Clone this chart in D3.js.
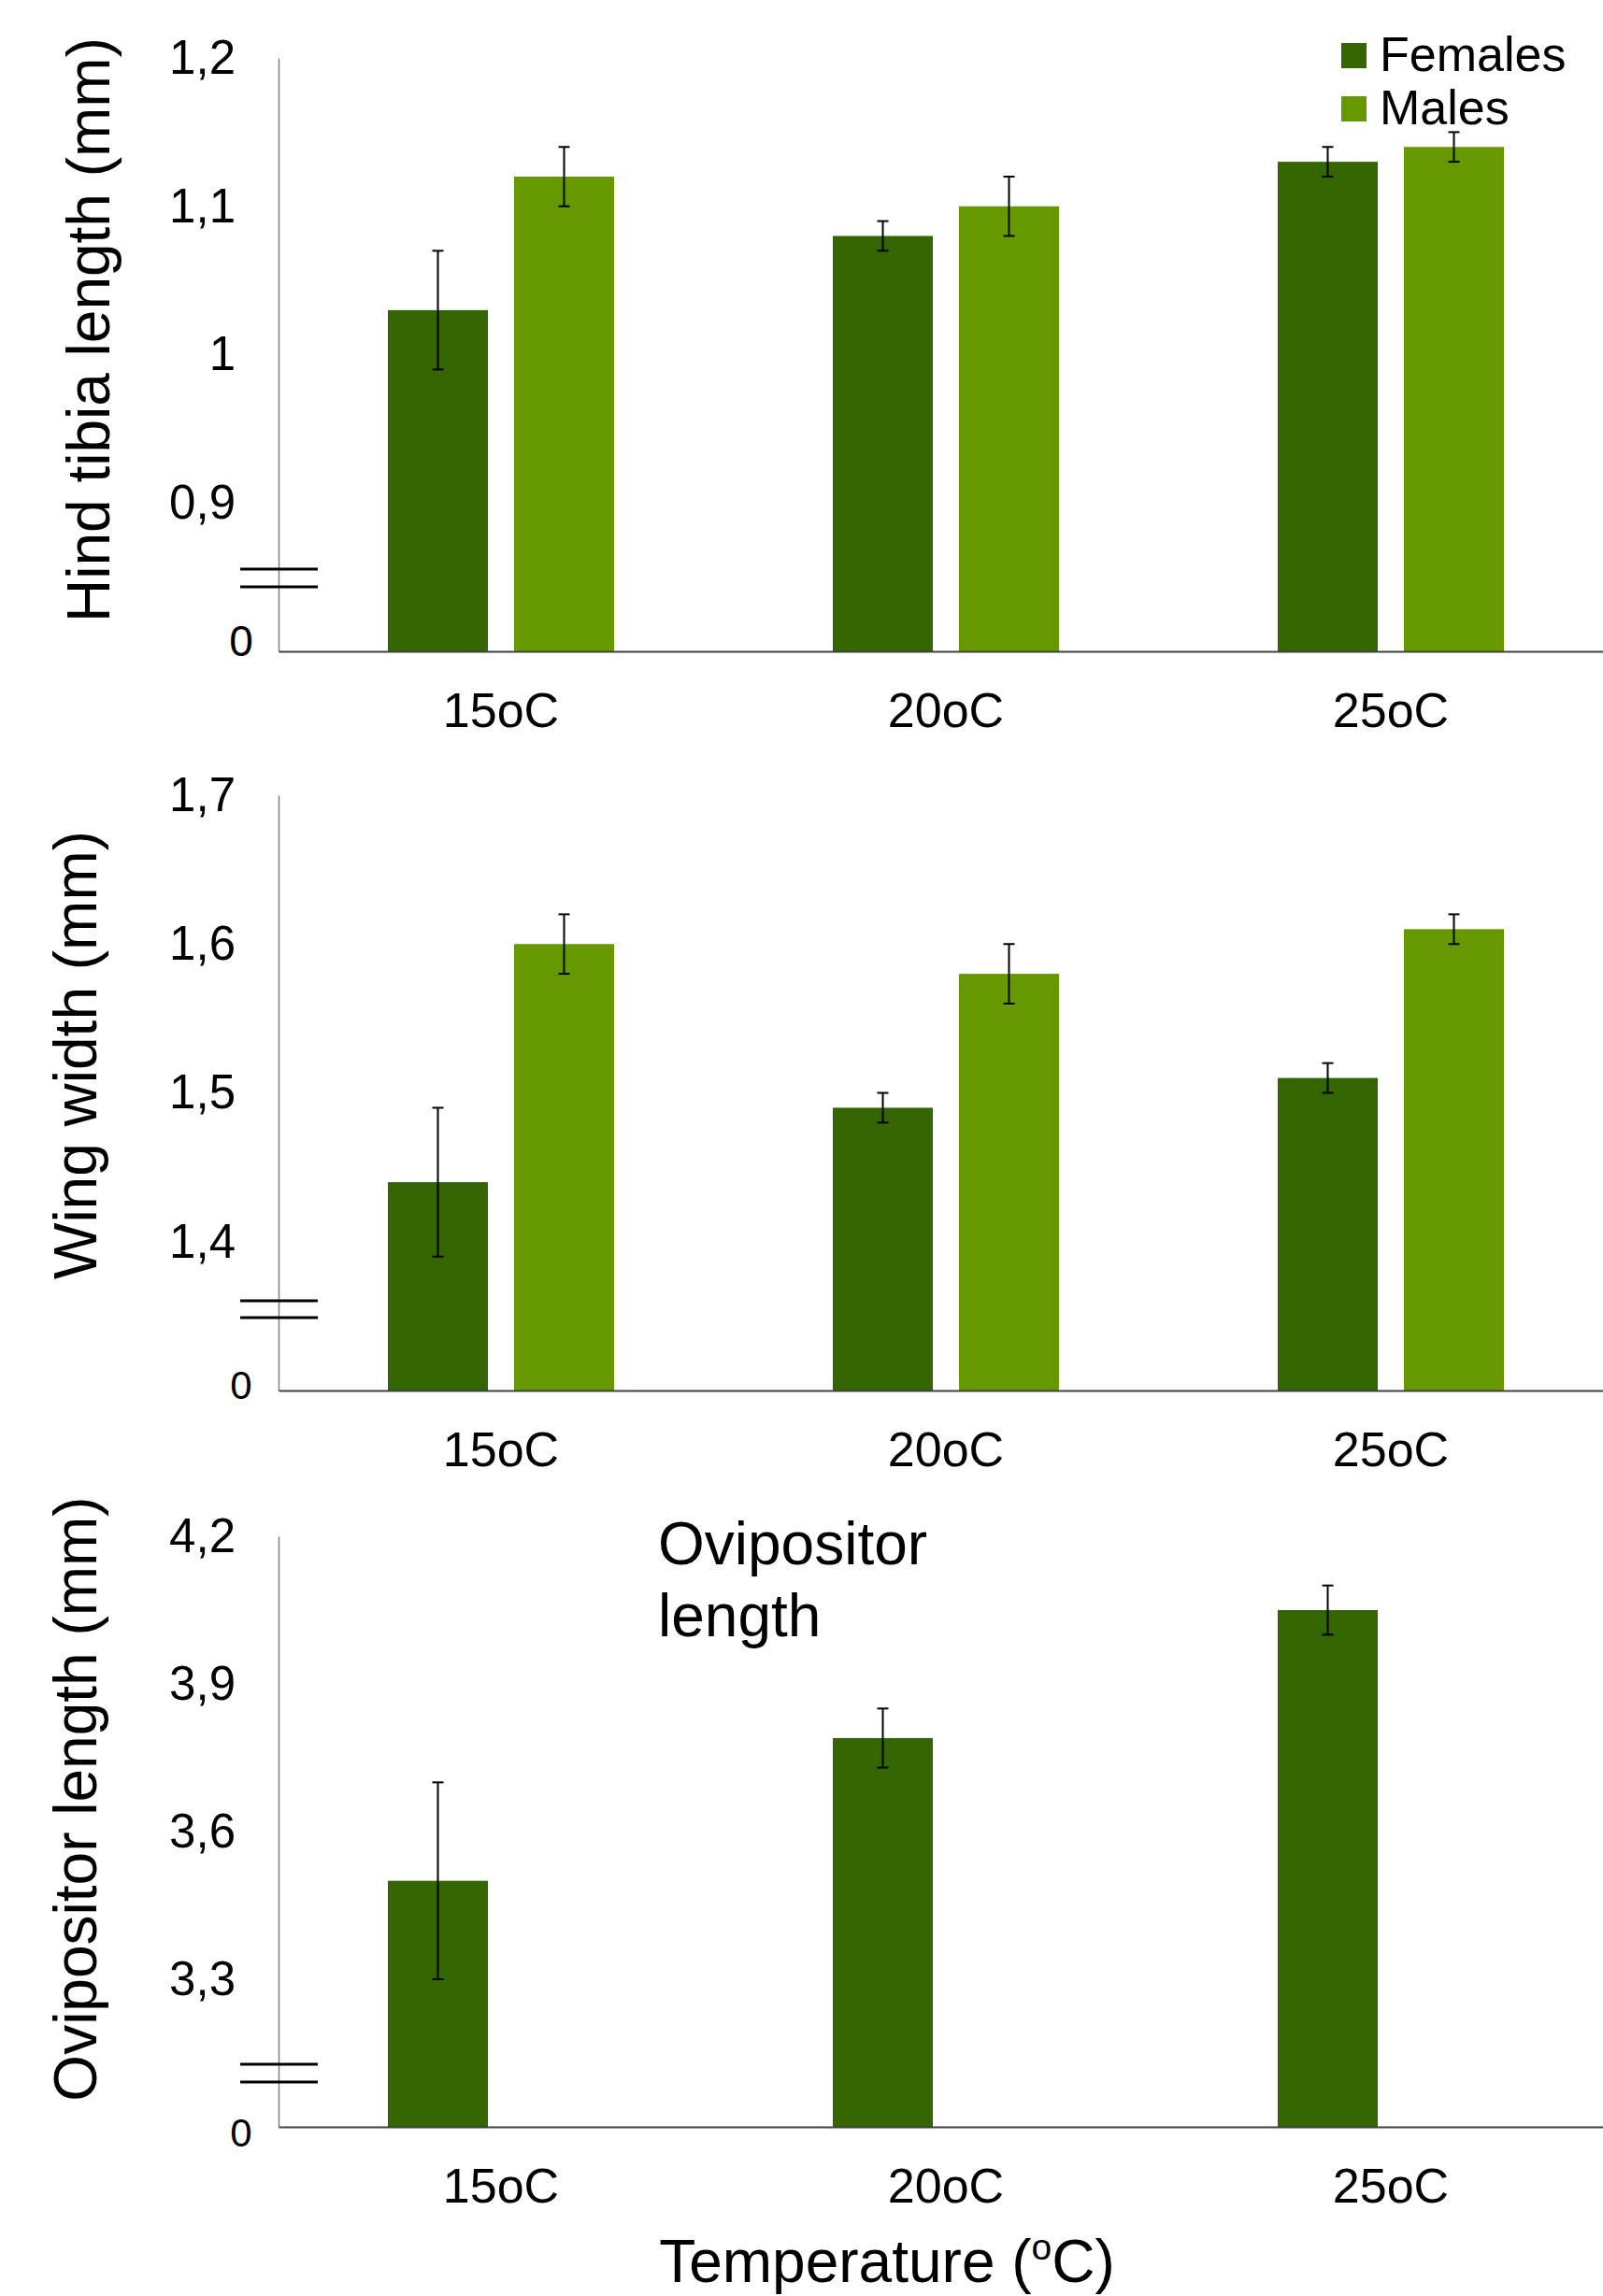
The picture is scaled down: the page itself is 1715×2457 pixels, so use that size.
<!DOCTYPE html>
<html>
<head>
<meta charset="utf-8">
<script src="https://cdn.jsdelivr.net/npm/d3@7/dist/d3.min.js"></script>
<style>
  html, body { margin: 0; padding: 0; background: #ffffff; }
  svg { display: block; font-family: "Liberation Sans", Arial, Helvetica, sans-serif; }
</style>
</head>
<body>
<svg id="chart" width="1715" height="2457"></svg>
<script>
// Temperature groups and sexes
const categories = ["15oC", "20oC", "25oC"];
const series = ["Females", "Males"];

// Hind tibia length (mm): means and error half-widths
const tibiaFemales = [1.03, 1.08, 1.13];
const tibiaFemalesErr = [0.04, 0.01, 0.01];
const tibiaMales = [1.12, 1.10, 1.14];
const tibiaMalesErr = [0.02, 0.02, 0.01];

// Wing width (mm)
const wingFemales = [1.44, 1.49, 1.51];
const wingFemalesErr = [0.05, 0.01, 0.01];
const wingMales = [1.60, 1.58, 1.61];
const wingMalesErr = [0.02, 0.02, 0.01];

// Ovipositor length (mm), females only
const oviFemales = [3.50, 3.79, 4.05];
const oviFemalesErr = [0.20, 0.06, 0.05];

// Broken value axes: the lowest value is shown as "0"
const tibiaTicks = [0.9, 1.0, 1.1, 1.2];
const tibiaTickLabels = ["0,9", "1", "1,1", "1,2"];
const tibiaBase = 0.8;
const wingTicks = [1.4, 1.5, 1.6, 1.7];
const wingTickLabels = ["1,4", "1,5", "1,6", "1,7"];
const wingBase = 1.3;
const oviTicks = [3.3, 3.6, 3.9, 4.2];
const oviTickLabels = ["3,3", "3,6", "3,9", "4,2"];
const oviBase = 3.0;
const baseLabel = "0";

const colors = { Females: "#336600", Males: "#669900" };

const svg = d3.select("#chart");
svg.append("rect").attr("width", 1715).attr("height", 2457).attr("fill", "#fff");

const axisX = 298;
const x0 = d3.scaleBand().domain(categories).range([axisX, 1726]).padding(0);
const x1 = d3.scaleBand().domain(series).range([0, 242]).paddingInner(28 / 135).paddingOuter(0);
const groupOffset = (x0.bandwidth() - 242) / 2;

const panels = [
  {
    title: "Hind tibia length (mm)", titleX: 117, titleY: 353,
    top: 62, bottom: 697, base: tibiaBase, ticks: tibiaTicks, labels: tibiaTickLabels,
    breaks: [88, 69], zeroDy: -12, zeroSize: 46,
    data: [
      { s: "Females", v: tibiaFemales, e: tibiaFemalesErr },
      { s: "Males", v: tibiaMales, e: tibiaMalesErr }
    ]
  },
  {
    title: "Wing width (mm)", titleX: 103, titleY: 1129,
    top: 851, bottom: 1488, base: wingBase, ticks: wingTicks, labels: wingTickLabels,
    breaks: [96, 78], zeroDy: -6, zeroSize: 42,
    data: [
      { s: "Females", v: wingFemales, e: wingFemalesErr },
      { s: "Males", v: wingMales, e: wingMalesErr }
    ]
  },
  {
    title: "Ovipositor length (mm)", titleX: 103, titleY: 1925,
    top: 1644, bottom: 2276, base: oviBase, ticks: oviTicks, labels: oviTickLabels,
    breaks: [67, 48], zeroDy: 6, zeroSize: 42,
    data: [
      { s: "Females", v: oviFemales, e: oviFemalesErr }
    ]
  }
];

panels.forEach(p => {
  const g = svg.append("g");
  const topVal = p.ticks[p.ticks.length - 1];
  const y = d3.scaleLinear().domain([p.base, topVal]).range([p.bottom, p.top]);

  // bars
  p.data.forEach(ser => {
    const rows = categories.map((c, i) => ({ c, v: ser.v[i], e: ser.e[i] }));
    const bx = d => x0(d.c) + groupOffset + x1(ser.s);
    g.append("g").selectAll("rect").data(rows).join("rect")
      .attr("x", bx)
      .attr("y", d => y(d.v))
      .attr("width", x1.bandwidth())
      .attr("height", d => p.bottom - y(d.v))
      .attr("fill", colors[ser.s]);

    // error bars
    const eb = g.append("g").attr("stroke", "#000").attr("stroke-width", 2);
    rows.forEach(d => {
      const cx = bx(d) + x1.bandwidth() / 2;
      eb.append("line").attr("x1", cx).attr("x2", cx).attr("y1", y(d.v + d.e)).attr("y2", y(d.v - d.e));
      [d.v + d.e, d.v - d.e].forEach(val => {
        eb.append("line").attr("x1", cx - 6).attr("x2", cx + 6).attr("y1", y(val)).attr("y2", y(val));
      });
    });
  });

  // value axis
  const yAxis = d3.axisLeft(y)
    .tickValues(p.ticks)
    .tickFormat((d, i) => p.labels[i])
    .tickSizeInner(0).tickSizeOuter(0).tickPadding(46);
  const ya = g.append("g").attr("transform", `translate(${axisX},0)`).call(yAxis);
  ya.select(".domain").attr("stroke", "#7f7f7f").attr("stroke-width", 1.5);
  ya.selectAll("text").attr("font-size", 51).attr("fill", "#000")
    .attr("font-family", "'Liberation Sans', Arial, sans-serif");

  // "0" label at the axis base
  g.append("text")
    .attr("x", 258).attr("y", p.bottom + p.zeroDy)
    .attr("dy", "0.36em")
    .attr("text-anchor", "middle")
    .attr("font-size", p.zeroSize)
    .text(baseLabel);

  // axis-break marks
  p.breaks.forEach(off => {
    g.append("line")
      .attr("x1", 257).attr("x2", 340)
      .attr("y1", p.bottom - off).attr("y2", p.bottom - off)
      .attr("stroke", "#000").attr("stroke-width", 3);
  });

  // category axis
  const xAxis = d3.axisBottom(x0).tickSizeInner(0).tickSizeOuter(0).tickPadding(44);
  const xa = g.append("g").attr("transform", `translate(0,${p.bottom})`).call(xAxis);
  xa.select(".domain").attr("stroke", "#404040").attr("stroke-width", 2);
  xa.selectAll("text").attr("font-size", 52).attr("fill", "#000")
    .attr("font-family", "'Liberation Sans', Arial, sans-serif");

  // axis title
  g.append("text")
    .attr("transform", `translate(${p.titleX},${p.titleY}) rotate(-90)`)
    .attr("text-anchor", "middle")
    .attr("font-size", 64)
    .text(p.title);
});

// legend
const legend = svg.append("g");
series.forEach((s, i) => {
  const yy = 46 + i * 57;
  legend.append("rect").attr("x", 1435).attr("y", yy).attr("width", 27).attr("height", 27).attr("fill", colors[s]);
  legend.append("text").attr("x", 1476).attr("y", yy + 30).attr("font-size", 52).text(s);
});

// annotation inside the ovipositor panel
const note = svg.append("text").attr("x", 704).attr("y", 1674).attr("font-size", 64);
note.append("tspan").attr("x", 704).text("Ovipositor");
note.append("tspan").attr("x", 704).attr("dy", 77).text("length");

// shared horizontal axis title
const xt = svg.append("text").attr("x", 949).attr("y", 2442).attr("text-anchor", "middle").attr("font-size", 64);
xt.append("tspan").text("Temperature (");
xt.append("tspan").attr("font-size", 39).attr("dy", -24).text("o");
xt.append("tspan").attr("dy", 24).text("C)");
</script>
</body>
</html>
